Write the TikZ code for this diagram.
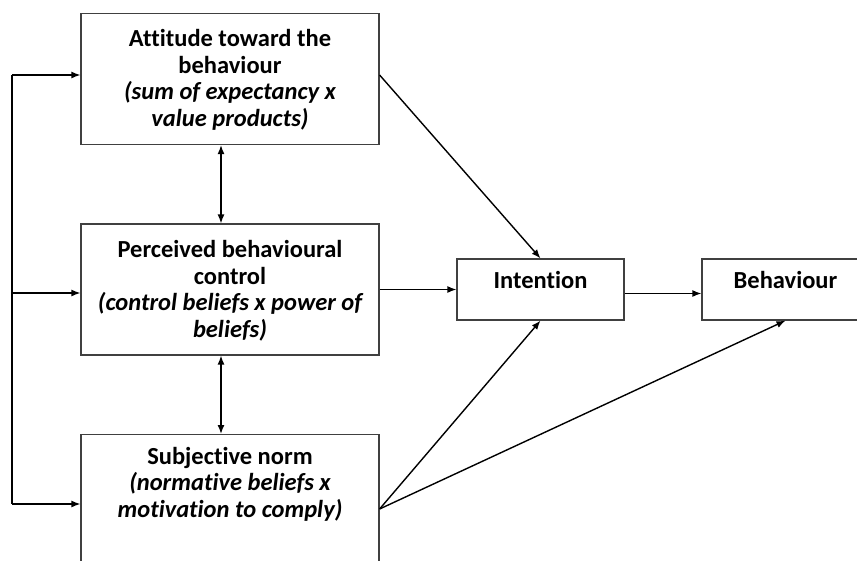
\documentclass[tikz,border=0pt]{standalone}
\usepackage{fontspec}
\setmainfont{Carlito}[Ligatures=NoCommon]
\usetikzlibrary{arrows.meta}
\tikzset{
  box/.style={draw=black!75, line width=1.2pt, fill=white, inner sep=0pt},
  boxtext/.style={align=center, font=\fontsize{24.5}{26.5}\selectfont\bfseries, inner sep=0pt},
  conn/.style={line width=1.4pt, -{Latex[length=9pt,width=7pt]}},
  biconn/.style={line width=1.4pt, {Latex[length=9pt,width=7pt]}-{Latex[length=9pt,width=7pt]}},
  plain/.style={line width=1.4pt}
}
\begin{document}
\begin{tikzpicture}[x=1pt,y=-1pt]
\useasboundingbox (0,0) rectangle (857,560);
\clip (0,0) rectangle (857,560);
\fill[white] (0,0) rectangle (857,560);

% left-hand column
\node[box, minimum width=298pt, minimum height=131pt] (att) at (230,79) {};
\node[boxtext] (atttext) at ([yshift=-1pt]att.center) {Attitude toward the\\behaviour\\\itshape(sum of expectancy x\\\itshape value products)};

\node[box, minimum width=298pt, minimum height=131pt] (pbc) at (230,289.5) {};
\node[boxtext] (pbctext) at ([yshift=-1pt]pbc.center) {Perceived behavioural\\control\\\itshape(control beliefs x power of\\\itshape beliefs)};

\node[box, minimum width=298pt, minimum height=180pt, anchor=north] (sn) at (230,434) {};
\node[boxtext, anchor=north] (sntext) at ([yshift=-13pt]sn.north) {Subjective norm\\\itshape(normative beliefs x\\\itshape motivation to comply)};

% right-hand column
\node[box, minimum width=167pt, minimum height=61pt] (int) at (540.5,289.5) {};
\node[boxtext, anchor=base] (inttext) at (540.5,288) {Intention};

\node[box, minimum width=167pt, minimum height=61pt] (beh) at (785.5,289.5) {};
\node[boxtext, anchor=base] (behtext) at (785.5,288) {Behaviour};

% feedback line on the left
\coordinate (ltop) at (12,75);
\coordinate (lmid) at (12,293);
\coordinate (lbot) at (12,504);
\draw[plain] (ltop) -- (lbot);
\draw[conn] (ltop) -- (ltop -| att.west);
\draw[conn] (lmid) -- (lmid -| pbc.west);
\draw[conn] (lbot) -- (lbot -| sn.west);

% links between the determinants
\draw[biconn] ([xshift=-9pt]att.south) -- ([xshift=-9pt]pbc.north);
\draw[biconn] ([xshift=-9pt]pbc.south) -- ([xshift=-9pt]sn.north);

% paths to intention and behaviour
\coordinate (attout) at (att.east |- 0,75);
\coordinate (snout) at (sn.east |- 0,509);
\draw[conn] (attout) -- (int.north);
\draw[conn] (pbc.east) -- (int.west);
\draw[conn] (snout) -- (int.south);
\draw[conn] (snout) -- (beh.south);
\draw[conn] ([yshift=-4pt]int.east) -- ([yshift=-4pt]beh.west);
\end{tikzpicture}
\end{document}
